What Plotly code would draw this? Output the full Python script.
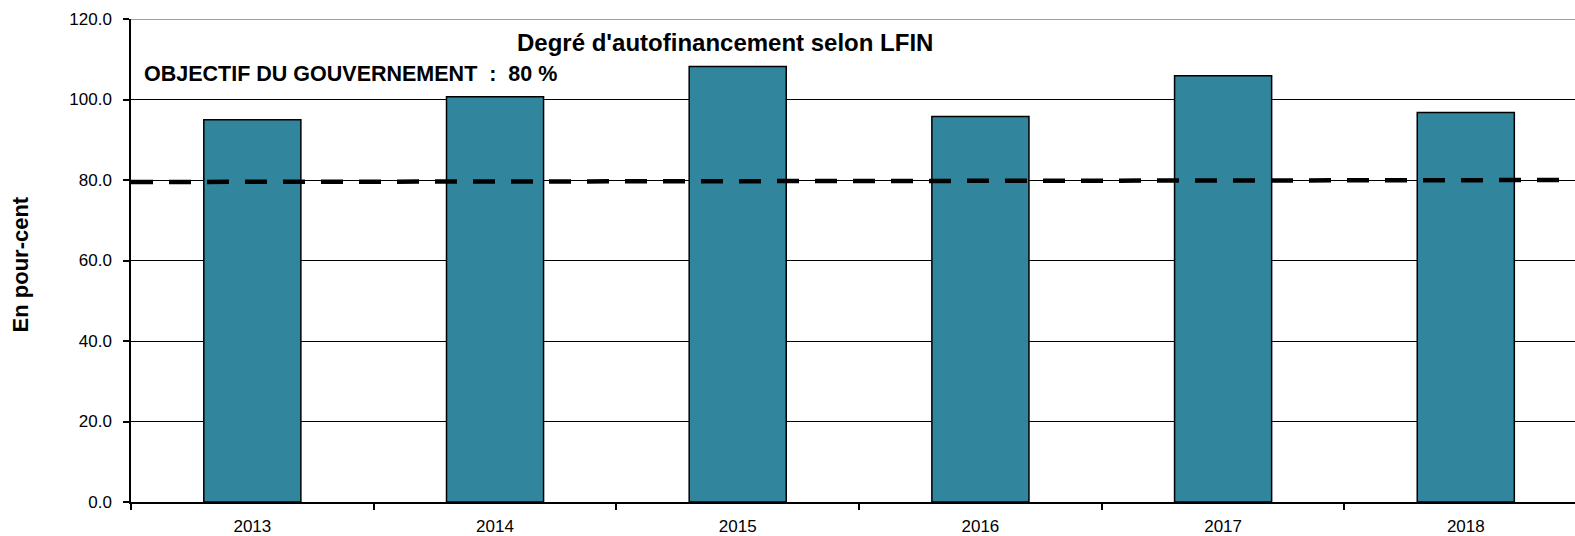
import plotly.graph_objects as go

# données
annees = ["2013", "2014", "2015", "2016", "2017", "2018"]
autofinancement = [95.0, 100.7, 108.2, 95.8, 105.9, 96.8]
objectif = [79.5, 80.0]  # ligne de l'objectif (début / fin)
yticks = [0, 20, 40, 60, 80, 100, 120]

W, H = 1575, 536
ML, MT, MB, MR = 131, 19, 30, 0
PW, PH = W - ML - MR, H - MT - MB


def px_x(x):
    return (x - ML) / PW


def px_y(y):
    return (H - MB - y) / PH


fig = go.Figure()

fig.add_trace(
    go.Bar(
        x=list(range(len(annees))),
        y=autofinancement,
        width=0.4,
        marker=dict(color="#31859C", line=dict(color="black", width=1.5)),
        showlegend=False,
        hoverinfo="y",
    )
)

# ligne pointillée de l'objectif, sur un axe x secondaire qui couvre toute la largeur
x_range = [-0.5, 5.45]
fig.add_trace(
    go.Scatter(
        x=[0, 1],
        y=objectif,
        xaxis="x2",
        mode="lines",
        line=dict(color="black", width=4.5, dash="22px,16px"),
        showlegend=False,
        hoverinfo="skip",
    )
)

fig.update_layout(
    width=W,
    height=H,
    margin=dict(l=ML, r=MR, t=MT, b=MB),
    plot_bgcolor="white",
    paper_bgcolor="white",
    font=dict(family="Liberation Sans, Arial, sans-serif", color="black"),
    xaxis=dict(
        range=x_range,
        tickvals=list(range(len(annees))),
        ticktext=annees,
        ticks="",
        ticklabelstandoff=8,
        showline=True,
        linecolor="black",
        linewidth=1.5,
        showgrid=False,
        zeroline=False,
        tickfont=dict(size=17),
        minor=dict(ticks="outside", tick0=-0.5, dtick=1, ticklen=6,
                   tickcolor="black", tickwidth=1.5, showgrid=False),
    ),
    xaxis2=dict(
        overlaying="x",
        range=[0, (x_range[1] - x_range[0]) / 6],
        visible=False,
    ),
    yaxis=dict(
        range=[0, 120],
        tickvals=yticks,
        tickformat=".1f",
        ticks="outside",
        ticklen=6,
        ticklabelstandoff=8,
        tickcolor="black",
        tickwidth=1.5,
        showline=True,
        linecolor="black",
        linewidth=1.5,
        gridcolor="black",
        gridwidth=1,
        zeroline=False,
        tickfont=dict(size=17),
    ),
    shapes=[
        dict(type="line", xref="paper", yref="y", x0=0, x1=1, y0=120, y1=120,
             line=dict(color="#808080", width=1.5)),
    ],
    annotations=[
        dict(text="<b>Degré d'autofinancement selon LFIN</b>", x=px_x(725), y=px_y(43),
             xanchor="center", yanchor="middle",
             xref="paper", yref="paper", showarrow=False, font=dict(size=24)),
        dict(text="<b>OBJECTIF DU GOUVERNEMENT  :  80 %</b>", x=px_x(142), y=px_y(74),
             xanchor="left", yanchor="middle",
             xref="paper", yref="paper", showarrow=False, font=dict(size=21.5)),
        dict(text="<b>En pour-cent</b>", x=px_x(20.5), y=px_y(267), textangle=-90,
             xanchor="center", yanchor="middle",
             xref="paper", yref="paper", showarrow=False, font=dict(size=22)),
    ],
)

# pas de marge ni de barres de défilement autour du graphique
fig.write_html(
    "out.html",
    config={"displayModeBar": False},
    post_script="document.body.style.margin='0';document.body.style.overflow='hidden';",
)
